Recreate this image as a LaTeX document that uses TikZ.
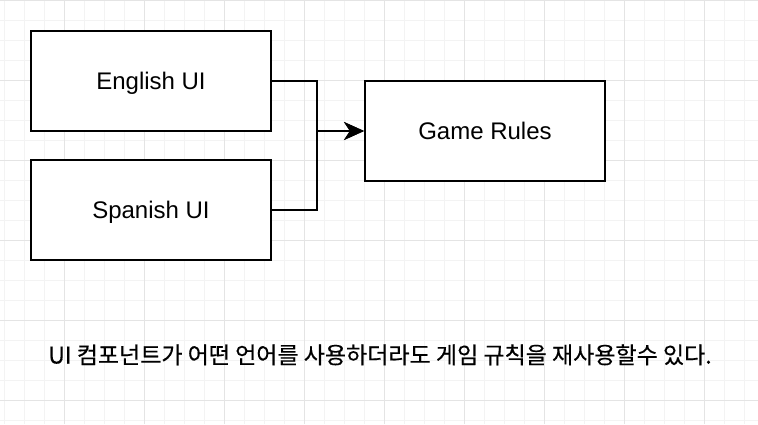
\documentclass[tikz,border=0pt]{standalone}
\usepackage{fontspec}
\setmainfont{Liberation Sans}
\newfontfamily\krfont[FakeBold=0.4]{Noto Sans CJK KR}
\usetikzlibrary{arrows.meta}
\definecolor{gridminor}{HTML}{F3F3F3}
\definecolor{gridmajor}{HTML}{E4E4E4}
\tikzset{
  box/.style={draw=black, line width=2pt, fill=white, minimum width=240pt, minimum height=100pt, inner sep=0pt, text height=17.2pt, text depth=0pt, font=\fontsize{24}{28}\selectfont},
  conn/.style={draw=black, line width=2pt, -{Stealth[length=20pt, width=18pt, inset=6pt]}},
  minorline/.style={draw=gridminor, line width=1pt},
  majorline/.style={draw=gridmajor, line width=1pt},
}
\begin{document}
\begin{tikzpicture}[x=1pt, y=-1pt]
\useasboundingbox (0,0) rectangle (758,424);
\fill[white] (0,0) rectangle (758,424);
\foreach \x in {4,24,...,754} \draw[minorline] (\x,0) -- (\x,424);
\foreach \y in {0,20,...,420} \draw[minorline] (0,\y) -- (758,\y);
\foreach \x in {64,144,...,754} \draw[majorline] (\x,0) -- (\x,424);
\foreach \y in {0,80,...,420} \draw[majorline] (0,\y) -- (758,\y);
\node[box] (en) at (151,81) {English UI};
\node[box] (sp) at (151,210) {Spanish UI};
\node[box] (gr) at (485,131) {Game Rules};
\coordinate (j) at (317,131);
\draw[conn] (en.east) -| (j) -- (gr.west);
\draw[conn] (sp.east) -| (j) -- (gr.west);
\node[font=\krfont\fontsize{23}{28}\selectfont, inner sep=0pt, text height=17pt, text depth=0pt] (note) at (380,355) {UI 컴포넌트가 어떤 언어를 사용하더라도 게임 규칙을 재사용할수 있다.};
\end{tikzpicture}
\end{document}
